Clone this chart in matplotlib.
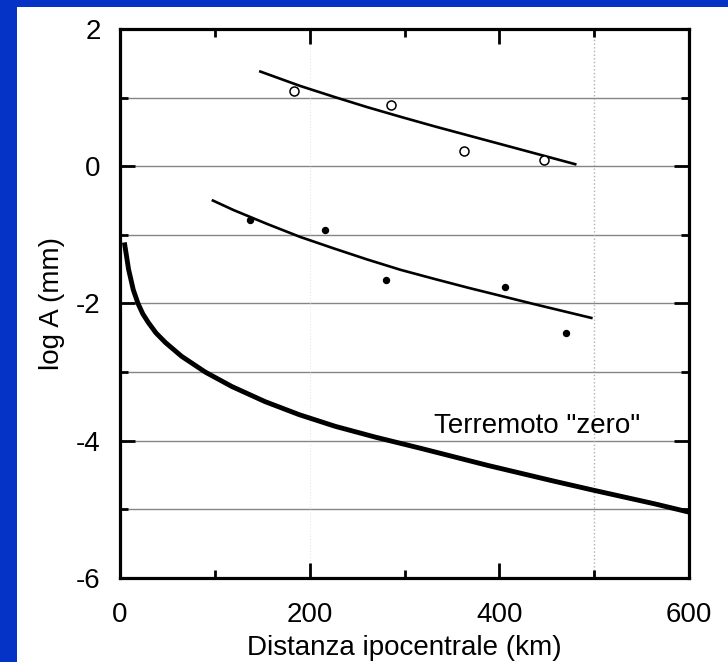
import matplotlib.pyplot as plt
from matplotlib.patches import Rectangle

plt.rcParams['axes.unicode_minus'] = False
plt.rcParams['font.family'] = ['Liberation Sans', 'DejaVu Sans']

# upper fit (open circles)
dist_open = [184, 286, 363, 447]
logA_open = [1.09, 0.89, 0.22, 0.09]
fit_open_x = [148, 190, 226, 261, 296, 332, 367, 402, 437, 480]
fit_open_y = [1.38, 1.17, 1.01, 0.86, 0.72, 0.58, 0.45, 0.32, 0.19, 0.03]

# lower fit (filled dots)
dist_fill = [137, 216, 280, 406, 470]
logA_fill = [-0.79, -0.93, -1.66, -1.76, -2.43]
fit_fill_x = [98, 120, 155, 190, 226, 261, 296, 331, 367, 402, 437, 470, 497]
fit_fill_y = [-0.50, -0.64, -0.84, -1.03, -1.20, -1.36, -1.51, -1.64, -1.77, -1.89, -2.01, -2.12, -2.21]

# "zero" earthquake curve
zero_x = [4.6, 7, 9, 12, 14, 19, 24, 30, 38, 48, 65, 90, 118, 153, 189, 227, 270, 317, 388, 458, 499, 564, 600]
zero_y = [-1.11, -1.32, -1.50, -1.68, -1.80, -2.00, -2.15, -2.28, -2.43, -2.57, -2.77, -3.00, -3.21,
          -3.43, -3.62, -3.79, -3.95, -4.11, -4.36, -4.59, -4.72, -4.92, -5.04]

fig = plt.figure(figsize=(7.28, 6.62), dpi=100)
fig.patch.set_facecolor('#0433C6')
fig.patches.append(Rectangle((17 / 728, 0), 1, 1 - 7 / 662, transform=fig.transFigure,
                             facecolor='white', edgecolor='none', zorder=-10))

ax = fig.add_axes([120 / 728, 1 - 578 / 662, 569 / 728, 549 / 662])
ax.set_facecolor('white')

for yv in [-5, -4, -3, -2, -1, 0, 1]:
    ax.axhline(yv, color='#858585', lw=1.0, zorder=1)
ax.axvline(500, color='#b0b0b0', lw=1.0, ls=':', zorder=1)
ax.axvline(200, color='#e8e8e8', lw=0.8, ls=':', zorder=1)

ax.plot(fit_open_x, fit_open_y, color='black', lw=1.9, zorder=3)
ax.plot(fit_fill_x, fit_fill_y, color='black', lw=1.9, zorder=3)
ax.plot(zero_x, zero_y, color='black', lw=3.5, zorder=3, solid_capstyle='butt',
        solid_joinstyle='round')
ax.plot(dist_open, logA_open, 'o', mfc='white', mec='black', ms=6.5, mew=1.1, zorder=4)
ax.plot(dist_fill, logA_fill, 'o', color='black', ms=4.3, zorder=4)

ax.text(331, -3.79, 'Terremoto "zero"', fontsize=20, va='center', ha='left')

ax.set_xlim(0, 600)
ax.set_ylim(-6, 2)
ax.set_xticks([0, 200, 400, 600])
ax.set_xticks([100, 300, 500], minor=True)
ax.set_yticks([-6, -4, -2, 0, 2])
ax.set_yticks([-5, -3, -1, 1], minor=True)
ax.tick_params(which='both', direction='in', top=True, right=True, width=2.0, labelsize=20)
ax.tick_params(which='major', length=11)
ax.tick_params(which='minor', length=6)
ax.tick_params(axis='x', which='major', pad=17)
ax.tick_params(axis='y', which='major', pad=14)
for s in ax.spines.values():
    s.set_linewidth(2.3)

ax.set_xlabel('Distanza ipocentrale (km)', fontsize=20)
ax.set_ylabel('log A (mm)', fontsize=20)
ax.xaxis.set_label_coords(0.5, -0.103)
ax.yaxis.set_label_coords(-0.097, 0.5)

fig.savefig('out.png', dpi=100, facecolor=fig.get_facecolor())
